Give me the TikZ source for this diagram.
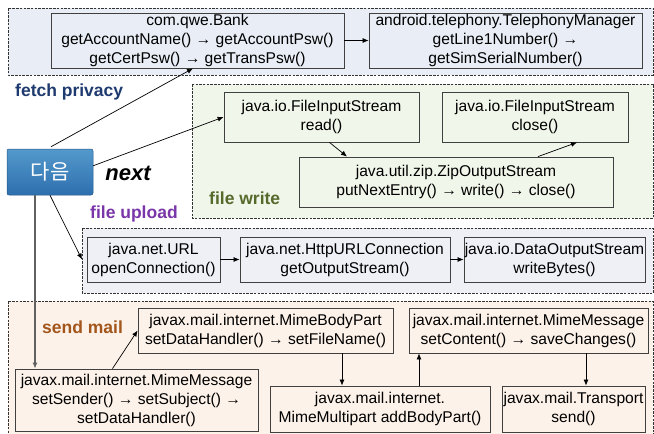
\documentclass[tikz,border=0pt]{standalone}
\usepackage{fontspec}
\setmainfont{Liberation Sans}
\newfontfamily\krfont{Noto Sans CJK KR}
\usetikzlibrary{arrows.meta}
\definecolor{pblue}{HTML}{E9EEF6}
\definecolor{pgreen}{HTML}{F1F6EA}
\definecolor{plav}{HTML}{EFEFF6}
\definecolor{ppeach}{HTML}{FDF2E9}
\definecolor{lblue}{HTML}{1F3A6E}
\definecolor{lgreen}{HTML}{566A2C}
\definecolor{lpurple}{HTML}{7A35A8}
\definecolor{lbrown}{HTML}{A2561B}
\definecolor{btntop}{HTML}{5499CC}
\definecolor{btnbot}{HTML}{2D6FAE}
\tikzset{
  panel/.style={draw=black!80, dashed, line width=0.6pt, dash pattern=on 2.5pt off 1.2pt},
  cbox/.style={draw=black!75, line width=0.8pt, align=center, inner sep=0pt,
    font=\fontsize{15.6}{19}\selectfont},
  lbl/.style={font=\fontsize{17.5}{20}\selectfont\bfseries, anchor=west, inner sep=0pt},
  arr/.style={-{Latex[length=6pt,width=5pt]}, line width=0.7pt},
}
\begin{document}
\begin{tikzpicture}[x=1pt,y=-1pt]
\useasboundingbox (0,0) rectangle (654,434);
% panels
\path[panel, fill=pblue] (8,8) rectangle (653,75);
\path[panel, fill=pgreen] (192,84) rectangle (653,218);
\path[panel, fill=plav] (82,228) rectangle (653,293);
\path[panel, fill=ppeach] (8,301) rectangle (653,440);
% labels
\node[lbl, text=lblue] (lfetch) at (15,92) {fetch privacy};
\node[lbl, text=lgreen] (lwrite) at (209,198) {file write};
\node[lbl, text=lpurple] (lupload) at (90,214) {file upload};
\node[lbl, text=lbrown] (lmail) at (42,327) {send mail};
% button
\node[draw=btnbot!80!black, line width=0.5pt, rounded corners=2pt, top color=btntop, bottom color=btnbot,
  minimum width=86pt, minimum height=46pt, inner sep=0pt, text=white,
  font=\krfont\fontsize{21}{24}\selectfont] (next) at (50,172) {다음};
\node[font=\fontsize{22}{24}\selectfont\bfseries\itshape, inner sep=0pt] (nextlbl) at (128,173) {next};
% fetch privacy boxes
\node[cbox, minimum width=293pt, minimum height=55pt] (bank) at (197.5,40.5)
  {com.qwe.Bank\\getAccountName() → getAccountPsw()\\getCertPsw() → getTransPsw()};
\node[cbox, minimum width=273pt, minimum height=55pt] (tel) at (505.5,40.5)
  {android.telephony.TelephonyManager\\getLine1Number() →\\getSimSerialNumber()};
% file write boxes
\node[cbox, minimum width=195pt, minimum height=50pt] (read) at (321.5,117)
  {java.io.FileInputStream\\read()};
\node[cbox, minimum width=186pt, minimum height=50pt] (close) at (535,117)
  {java.io.FileInputStream\\close()};
\node[cbox, minimum width=314pt, minimum height=50pt] (zip) at (456,182)
  {java.util.zip.ZipOutputStream\\putNextEntry() → write() → close()};
% file upload boxes
\node[cbox, minimum width=133pt, minimum height=45pt] (url) at (153.5,259.5)
  {java.net.URL\\openConnection()};
\node[cbox, minimum width=210pt, minimum height=45pt] (http) at (345,259.5)
  {java.net.HttpURLConnection\\getOutputStream()};
\node[cbox, minimum width=181pt, minimum height=45pt] (dos) at (554.5,259.5)
  {java.io.DataOutputStream\\writeBytes()};
% send mail boxes
\node[cbox, minimum width=255pt, minimum height=45pt] (body) at (265.5,330.5)
  {javax.mail.internet.MimeBodyPart\\setDataHandler() → setFileName()};
\node[cbox, minimum width=239pt, minimum height=45pt] (msg2) at (528.5,330.5)
  {javax.mail.internet.MimeMessage\\setContent() → saveChanges()};
\node[cbox, minimum width=243pt, minimum height=62pt] (msg1) at (136.5,400)
  {javax.mail.internet.MimeMessage\\setSender() → setSubject() →\\setDataHandler()};
\node[cbox, minimum width=220pt, minimum height=46pt] (multi) at (380,409)
  {javax.mail.internet.\\MimeMultipart addBodyPart()};
\node[cbox, minimum width=143pt, minimum height=46pt] (trans) at (573.5,409)
  {javax.mail.Transport\\send()};
% connectors
\draw[arr] (bank.east) -- (tel.west);
\draw[arr] (next.north) ++(1,-2) coordinate (n1) (n1) -- (bank.south -| 193,0);
\draw[arr] ([yshift=-17pt]next.north east) -- (read.west);
\draw[arr] ([xshift=8pt]read.south) -- ([xshift=-109pt]zip.north);
\draw[arr] ([xshift=82pt]zip.north) -- ([xshift=42pt]close.south);
\draw[arr, draw=black!62, line width=1.1pt] ([xshift=-15pt]next.south) -- (msg1.north -| 35,0);
\draw[arr] (next.south) -- (url.west -| 82,0);
\draw[arr] (url.east) -- (http.west);
\draw[arr] (http.east) -- (dos.west);
\draw[arr] ([xshift=-24pt]msg1.north) -- (body.west);
\draw[arr] (body.south -| 342,0) -- (multi.north -| 342,0);
\draw[arr] (multi.north -| 419,0) -- (msg2.south -| 419,0);
\draw[arr] (msg2.south -| 586,0) -- (trans.north -| 586,0);
\end{tikzpicture}
\end{document}
